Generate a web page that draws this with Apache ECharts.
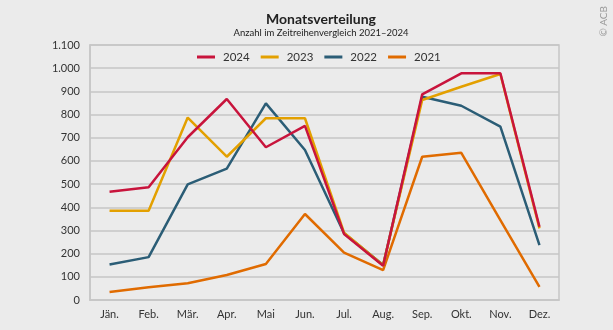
<!DOCTYPE html>
<html><head><meta charset="utf-8">
<script src="https://cdn.jsdelivr.net/npm/echarts@6/dist/echarts.min.js"></script>
<style>html,body{margin:0;padding:0;background:#ebebeb}#c{width:613px;height:330px}</style>
</head><body><div id="c"></div>
<script>
const categories = ['Jän.','Feb.','Mär.','Apr.','Mai','Jun.','Jul.','Aug.','Sep.','Okt.','Nov.','Dez.'];
const s2024 = [467, 486, 702, 867, 659, 751, 285, 148, 887, 978, 978, 316];
const s2023 = [385, 385, 787, 618, 784, 784, 290, 150, 863, 920, 975, 309];
const s2022 = [153, 185, 499, 567, 848, 647, 288, 151, 877, 838, 748, 237];
const s2021 = [35, 55, 72, 108, 155, 371, 204, 129, 618, 635, 345, 57];
const seriesNames = ['2024','2023','2022','2021'];
const colors = ['#c8143c','#e3a000','#2b5d76','#e06b00'];
const yTicks = {min:0, max:1100, interval:100};

const chart = echarts.init(document.getElementById('c'), null, {renderer:'canvas'});
const font = 'Lato, "Open Sans", sans-serif';
const data = [s2024, s2023, s2022, s2021];
chart.setOption({
  backgroundColor:'#ebebeb',
  animation:false,
  title:{
    text:'Monatsverteilung',
    subtext:'Anzahl im Zeitreihenvergleich 2021–2024',
    left:316, textAlign:'center', top:7, itemGap:2,
    textStyle:{fontFamily:font, fontSize:14, fontWeight:'bold', color:'#222'},
    subtextStyle:{fontFamily:font, fontSize:9.5, color:'#222'}
  },
  graphic:[{
    type:'text', left:599, top:6, rotation:Math.PI/2,
    style:{text:'© ACB', fontFamily:font, fontSize:10, fill:'#9a9a9a'}
  }],
  legend:{
    data:seriesNames, top:46, left:192, itemWidth:18, itemHeight:3, itemGap:11,
    icon:'rect',
    textStyle:{fontFamily:font, fontSize:11.5, color:'#333', padding:[0,0,0,3]}
  },
  grid:{left:90, right:54, top:45, bottom:30, show:true, borderColor:'#c6c6c6', borderWidth:1.5},
  xAxis:{
    type:'category', data:categories, boundaryGap:true,
    axisLine:{show:true, lineStyle:{color:'#c6c6c6', width:1.5}},
    axisTick:{show:false},
    axisLabel:{fontFamily:font, fontSize:11, color:'#333', margin:9}
  },
  yAxis:{
    type:'value', min:yTicks.min, max:yTicks.max, interval:yTicks.interval,
    axisLine:{show:true, lineStyle:{color:'#c6c6c6', width:1.5}},
    axisTick:{show:false},
    splitLine:{lineStyle:{color:'#c6c6c6', width:1.5}},
    axisLabel:{fontFamily:font, fontSize:11, color:'#333', margin:10,
      formatter:v => String(v).replace(/\B(?=(\d{3})+(?!\d))/g,'.')}
  },
  series: seriesNames.map((n,i)=>({
    name:n, type:'line', data:data[i], symbol:'none',
    lineStyle:{width:2.5, color:colors[i]}, itemStyle:{color:colors[i]},
    z: 10 - i
  }))
});
</script></body></html>
